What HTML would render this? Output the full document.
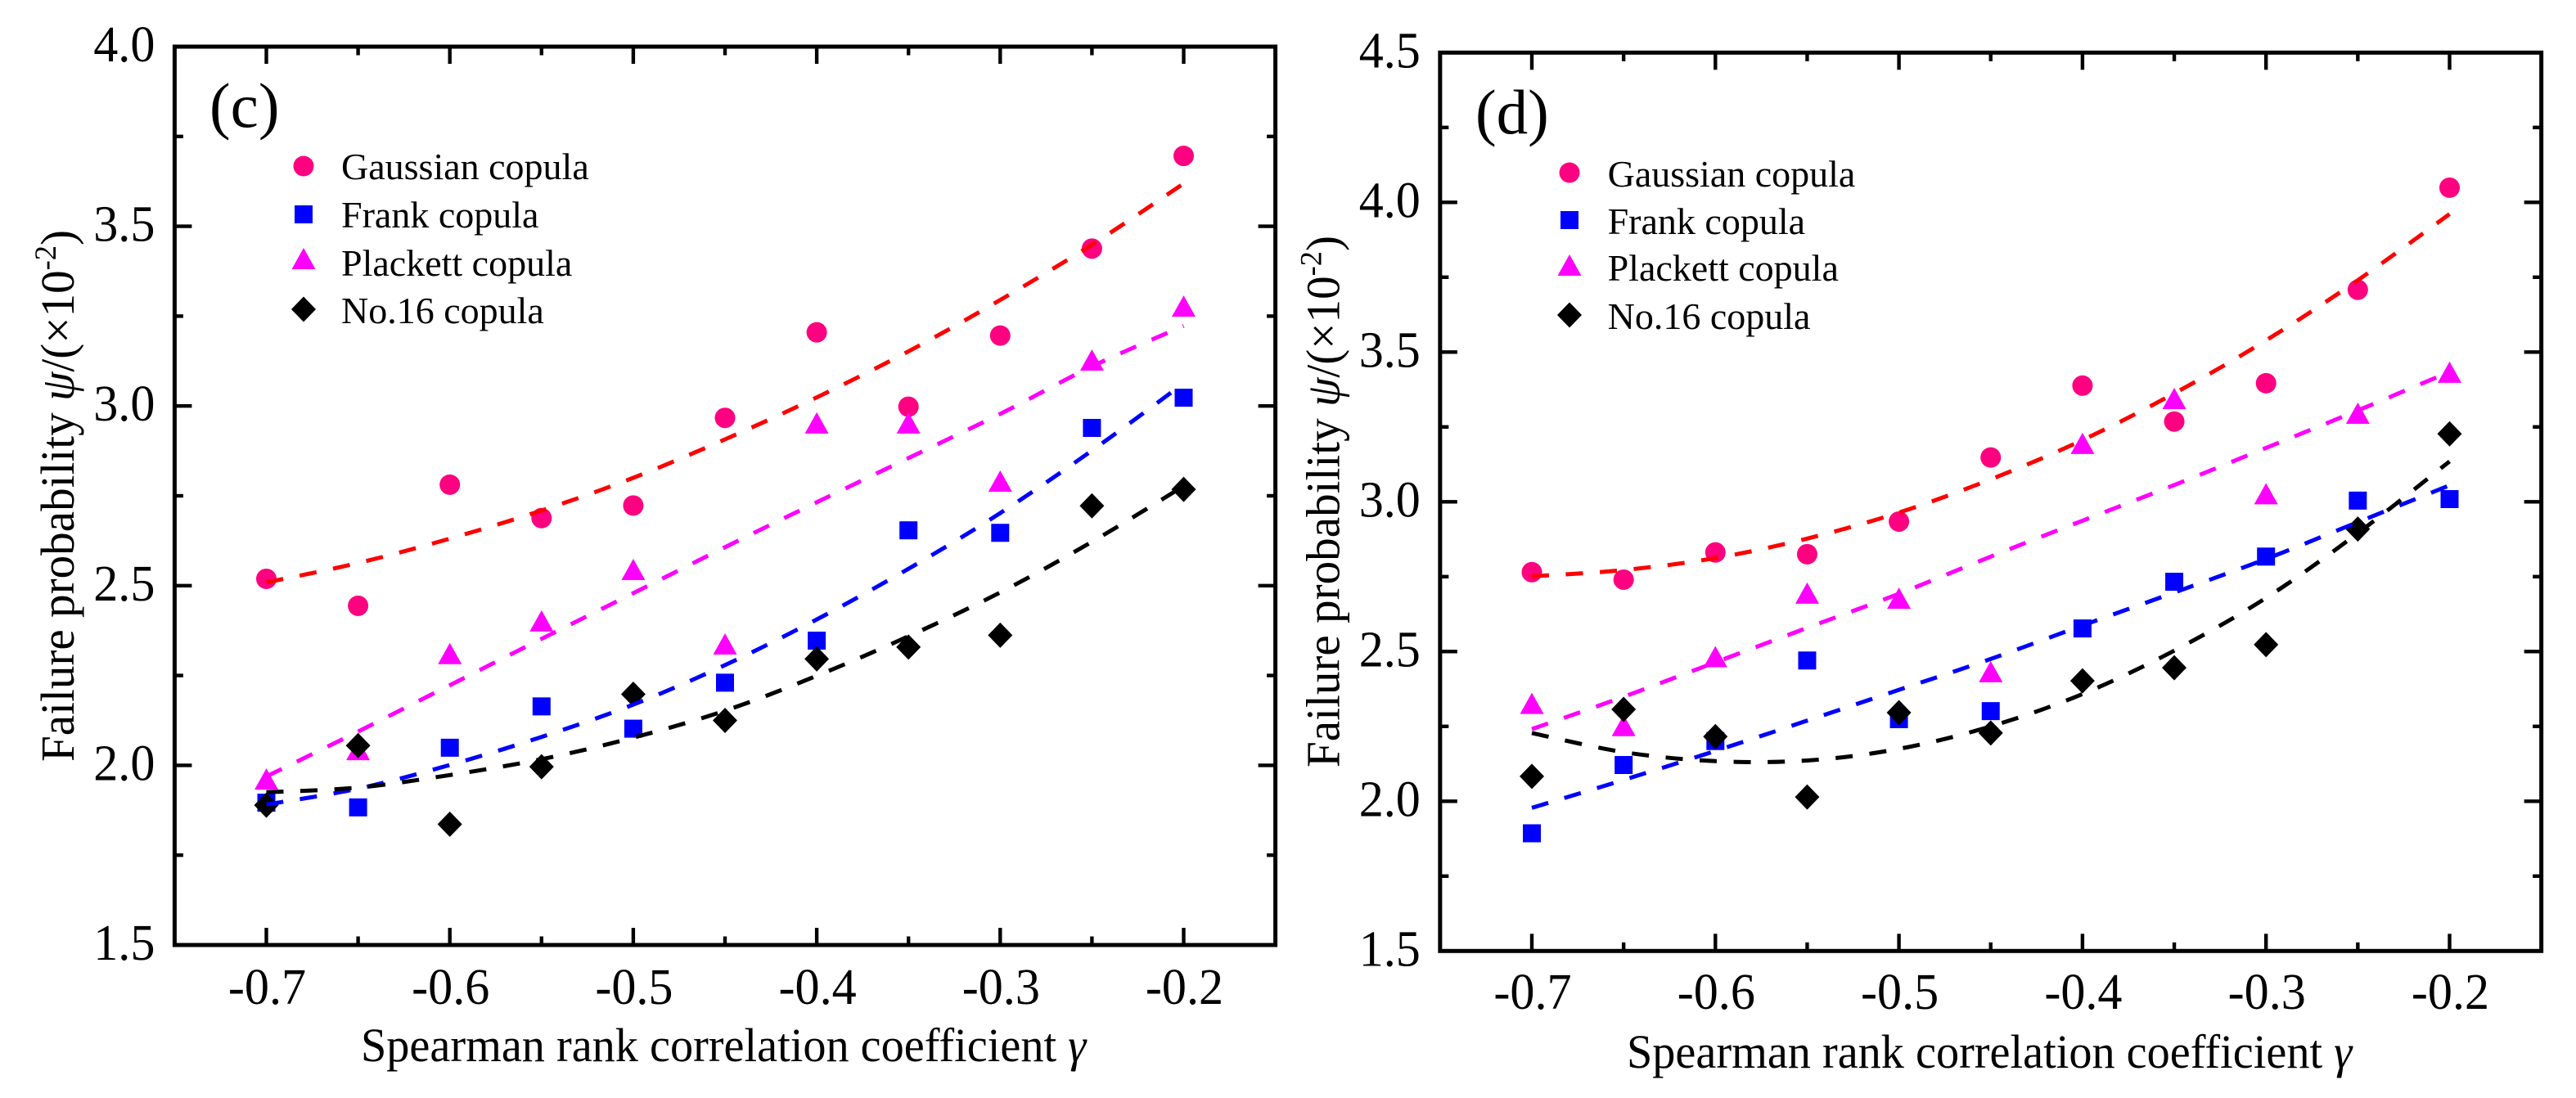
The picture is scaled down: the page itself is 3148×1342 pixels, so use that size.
<!DOCTYPE html>
<html lang="en">
<head>
<meta charset="utf-8">
<title>Failure probability vs Spearman rank correlation coefficient</title>
<style>
html,body{margin:0;padding:0;background:#fff;}
#figure{display:block;width:3148px;height:1342px;background:#fff;}
text{font-family:"Liberation Serif","DejaVu Serif",serif;fill:#000;}
</style>
</head>
<body>
<svg id="figure" xmlns="http://www.w3.org/2000/svg" width="3148" height="1342" viewBox="0 0 3148 1342"></svg>
<script>
const categories = [-0.7,-0.65,-0.6,-0.55,-0.5,-0.45,-0.4,-0.35,-0.3,-0.25,-0.2];
const xMajorTicks = [-0.7,-0.6,-0.5,-0.4,-0.3,-0.2];
const xMinorTicks = [-0.65,-0.55,-0.45,-0.35,-0.25];
const xTickLabels = ['-0.7','-0.6','-0.5','-0.4','-0.3','-0.2'];
const yMajorTicksC = [1.5,2.0,2.5,3.0,3.5,4.0];
const yMinorTicksC = [1.75,2.25,2.75,3.25,3.75];
const yTickLabelsC = ['1.5','2.0','2.5','3.0','3.5','4.0'];
const yMajorTicksD = [1.5,2.0,2.5,3.0,3.5,4.0,4.5];
const yMinorTicksD = [1.75,2.25,2.75,3.25,3.75,4.25];
const yTickLabelsD = ['1.5','2.0','2.5','3.0','3.5','4.0','4.5'];
const seriesNames = ['Gaussian copula','Frank copula','Plackett copula','No.16 copula'];

const gaussianC = [2.519,2.444,2.781,2.688,2.723,2.967,3.205,2.998,3.196,3.438,3.696];
const frankC = [1.896,1.883,2.049,2.164,2.102,2.230,2.347,2.654,2.647,2.939,3.023];
const plackettC = [1.962,2.044,2.311,2.402,2.545,2.338,2.953,2.953,2.791,3.128,3.278];
const no16C = [1.889,2.055,1.836,1.996,2.198,2.125,2.296,2.329,2.362,2.722,2.768];
const gaussianFitC = [2.509,2.563,2.631,2.709,2.800,2.907,3.024,3.152,3.295,3.449,3.619];
const frankFitC = [1.891,1.935,2.001,2.079,2.169,2.279,2.406,2.547,2.702,2.876,3.063];
const plackettFitC = [1.969,2.094,2.223,2.352,2.479,2.607,2.732,2.855,2.978,3.110,3.223];
const no16FitC = [1.925,1.938,1.973,2.017,2.077,2.152,2.249,2.359,2.481,2.622,2.777];

const gaussianD = [2.765,2.740,2.831,2.825,2.934,3.148,3.388,3.268,3.396,3.708,4.049];
const frankD = [1.893,2.121,2.201,2.470,2.274,2.301,2.577,2.733,2.817,3.004,3.009];
const plackettD = [2.327,2.253,2.483,2.695,2.678,2.433,3.195,3.345,3.027,3.296,3.433];
const no16D = [2.083,2.307,2.216,2.014,2.296,2.228,2.402,2.446,2.523,2.909,3.227];
const gaussianFitD = [2.751,2.772,2.812,2.877,2.964,3.075,3.206,3.362,3.539,3.740,3.961];
const frankFitD = [1.978,2.071,2.168,2.269,2.372,2.475,2.587,2.697,2.809,2.932,3.055];
const plackettFitD = [2.241,2.349,2.464,2.579,2.693,2.817,2.937,3.056,3.180,3.305,3.434];
const no16FitD = [2.228,2.164,2.134,2.136,2.175,2.250,2.358,2.503,2.679,2.895,3.135];

const NS = 'http://www.w3.org/2000/svg';
const root = document.getElementById('figure');

function make(parent, tag, attrs) {
  const el = document.createElementNS(NS, tag);
  for (const k in attrs) el.setAttribute(k, attrs[k]);
  parent.appendChild(el);
  return el;
}

function makeXScale(x0, perUnit) { return v => x0 + (v + 0.7) * perUnit; }
function makeYScale(y0, perUnit) { return v => y0 - (v - 1.5) * perUnit; }

function smoothPath(xs, ys) {
  let d = 'M' + xs[0].toFixed(1) + ' ' + ys[0].toFixed(1);
  for (let i = 0; i < xs.length - 1; i++) {
    const a = Math.max(i - 1, 0), b = i + 1, c = Math.min(i + 2, xs.length - 1);
    const c1x = xs[i] + (xs[b] - xs[a]) / 6, c1y = ys[i] + (ys[b] - ys[a]) / 6;
    const c2x = xs[b] - (xs[c] - xs[i]) / 6, c2y = ys[b] - (ys[c] - ys[i]) / 6;
    d += 'C' + c1x.toFixed(1) + ' ' + c1y.toFixed(1) + ' ' + c2x.toFixed(1) + ' ' + c2y.toFixed(1) + ' ' + xs[b].toFixed(1) + ' ' + ys[b].toFixed(1);
  }
  return d;
}

function drawMarker(parent, kind, cx, cy, color) {
  let el;
  if (kind === 'circle') {
    el = make(parent, 'circle', {cx: cx, cy: cy, r: 12.5, fill: color});
  } else if (kind === 'square') {
    el = make(parent, 'rect', {x: cx - 11, y: cy - 11, width: 22, height: 22, fill: color});
  } else if (kind === 'triangle') {
    el = make(parent, 'polygon', {points: cx + ',' + (cy - 13) + ' ' + (cx + 14.5) + ',' + (cy + 13) + ' ' + (cx - 14.5) + ',' + (cy + 13), fill: color});
  } else {
    el = make(parent, 'polygon', {points: cx + ',' + (cy - 15.5) + ' ' + (cx + 15) + ',' + cy + ' ' + cx + ',' + (cy + 15.5) + ' ' + (cx - 15) + ',' + cy, fill: color});
  }
  return el;
}

function drawPanel(p) {
  const g = make(root, 'g', {});
  
  
  const x = makeXScale(p.x0, p.xPerUnit);
  const y = makeYScale(p.y0, p.yPerUnit);
  const left = x(-0.75), right = x(-0.15), bottom = y(1.5), top = y(p.yMax);

  // scatter markers
  p.series.forEach(s => {
    const sg = make(g, 'g', {});
    
    
    s.values.forEach((v, i) => {
      const m = drawMarker(sg, s.kind, x(categories[i]), y(v), s.color);
      
      
    });
  });

  // fitted dashed curves
  p.fitOrder.forEach(s => {
    const xs = categories.map(c => x(c));
    const ys = s.fit.map(v => y(v));
    const path = make(g, 'path', {d: smoothPath(xs, ys), fill: 'none', stroke: s.lineColor, 'stroke-width': 5, 'stroke-dasharray': '21 20.6', 'stroke-linecap': 'butt'});
    
    
  });

  // axes frame
  const frame = make(g, 'rect', {x: left, y: top, width: right - left, height: bottom - top, fill: 'none', stroke: '#000', 'stroke-width': 5});
  
  

  // ticks
  const tickGroup = make(g, 'g', {stroke: '#000', 'stroke-width': 4.4});
  
  
  const drawV = (v, len) => {
    const a = make(tickGroup, 'line', {x1: x(v), x2: x(v), y1: bottom, y2: bottom - len});
    
    
    const b = make(tickGroup, 'line', {x1: x(v), x2: x(v), y1: top, y2: top + len});
    
    
  };
  const drawH = (v, len) => {
    const a = make(tickGroup, 'line', {y1: y(v), y2: y(v), x1: left, x2: left + len});
    
    
    const b = make(tickGroup, 'line', {y1: y(v), y2: y(v), x1: right, x2: right - len});
    
    
  };
  xMajorTicks.forEach(v => drawV(v, 21));
  xMinorTicks.forEach(v => drawV(v, 10.5));
  p.yMajor.forEach(v => drawH(v, 21));
  p.yMinor.forEach(v => drawH(v, 10.5));

  // tick labels
  xMajorTicks.forEach((v, i) => {
    const t = make(g, 'text', {transform: 'translate(' + (x(v) + 1) + ' ' + p.xLabelBaseline + ') scale(0.97 1)', 'font-size': 62, 'text-anchor': 'middle'});
    t.textContent = xTickLabels[i];
    
    
  });
  p.yMajor.forEach((v, i) => {
    const t = make(g, 'text', {transform: 'translate(' + (left - 24) + ' ' + (y(v) + 18) + ') scale(0.97 1)', 'font-size': 62, 'text-anchor': 'end'});
    t.textContent = p.yLabels[i];
    
    
  });

  // x-axis title
  const xt = make(g, 'text', {transform: 'translate(' + p.xTitleX + ' ' + p.xTitleY + ') scale(0.97 1)', 'font-size': 58});
  
  
  xt.appendChild(document.createTextNode('Spearman rank correlation coefficient '));
  make(xt, 'tspan', {'font-style': 'italic'}).textContent = 'γ';

  // y-axis title
  const yt = make(g, 'text', {transform: 'translate(' + p.yTitleX + ' ' + p.yTitleY + ') rotate(-90) scale(0.985 1)', 'font-size': 58});
  
  
  yt.appendChild(document.createTextNode('Failure probability '));
  make(yt, 'tspan', {'font-style': 'italic'}).textContent = 'ψ';
  make(yt, 'tspan', {}).textContent = '/(×10';
  make(yt, 'tspan', {dy: -22, 'font-size': 37}).textContent = '-2';
  make(yt, 'tspan', {dy: 22}).textContent = ')';

  // panel letter
  const letter = make(g, 'text', {x: p.letterX, y: p.letterY, 'font-size': 77});
  letter.textContent = p.letter;
  
  

  // legend
  const lg = make(g, 'g', {});
  
  
  p.series.forEach((s, i) => {
    const m = drawMarker(lg, s.kind, p.legendMarkerX, p.legendMarkerY[i], s.color);
    
    
    const t = make(lg, 'text', {x: p.legendTextX, y: p.legendBaseline[i], 'font-size': 46});
    t.textContent = seriesNames[i];
    
    
  });
}

const pink = '#ff0080', red = '#ff0000', blue = '#0000ff', magenta = '#ff00ff', black = '#000000';

function seriesSet(g, f, pl, n, gf, ff, pf, nf) {
  return [
    {key: 'gaussian', kind: 'circle', color: pink, lineColor: red, values: g, fit: gf},
    {key: 'frank', kind: 'square', color: blue, lineColor: blue, values: f, fit: ff},
    {key: 'plackett', kind: 'triangle', color: magenta, lineColor: magenta, values: pl, fit: pf},
    {key: 'no16', kind: 'diamond', color: black, lineColor: black, values: n, fit: nf}
  ];
}

const seriesC = seriesSet(gaussianC, frankC, plackettC, no16C, gaussianFitC, frankFitC, plackettFitC, no16FitC);
const seriesD = seriesSet(gaussianD, frankD, plackettD, no16D, gaussianFitD, frankFitD, plackettFitD, no16FitD);

drawPanel({
  id: 'panel-c', letter: '(c)', x0: 325.5, xPerUnit: 2242, y0: 1155, yPerUnit: 439.2, yMax: 4.0,
  yMajor: yMajorTicksC, yMinor: yMinorTicksC, yLabels: yTickLabelsC, series: seriesC,
  fitOrder: [seriesC[2], seriesC[0], seriesC[1], seriesC[3]],
  xLabelBaseline: 1227, xTitleX: 441, xTitleY: 1297, yTitleX: 90, yTitleY: 931,
  letterX: 256, letterY: 155,
  legendMarkerX: 371, legendMarkerY: [203, 262, 316, 378], legendTextX: 417, legendBaseline: [219, 278, 337, 395]
});

drawPanel({
  id: 'panel-d', letter: '(d)', x0: 1872, xPerUnit: 2243, y0: 1162.3, yPerUnit: 366, yMax: 4.5,
  yMajor: yMajorTicksD, yMinor: yMinorTicksD, yLabels: yTickLabelsD, series: seriesD,
  fitOrder: [seriesD[2], seriesD[0], seriesD[1], seriesD[3]],
  xLabelBaseline: 1233, xTitleX: 1988, xTitleY: 1305, yTitleX: 1636.5, yTitleY: 938,
  letterX: 1803, letterY: 163,
  legendMarkerX: 1918, legendMarkerY: [211, 269, 324, 385], legendTextX: 1964.6, legendBaseline: [228, 286, 343, 402]
});
</script>
</body>
</html>
